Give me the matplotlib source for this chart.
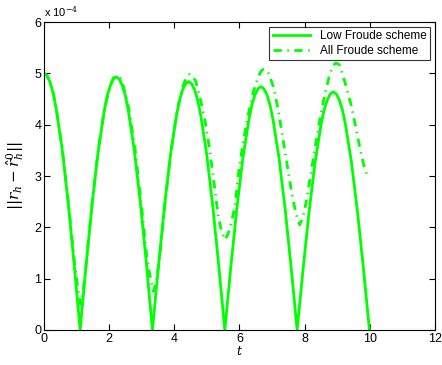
import numpy as np
import matplotlib
matplotlib.use("Agg")
from matplotlib import pyplot as plt

plt.rcParams['font.family'] = ['Liberation Sans', 'DejaVu Sans']
plt.rcParams['mathtext.fontset'] = 'dejavuserif'

# values, y in units of 1e-4
t_low = [0.0, 0.09, 0.185, 0.28, 0.37, 0.555, 0.74, 0.925, 1.11,
         1.295, 1.48, 1.665, 1.85, 1.94, 2.035, 2.13, 2.22, 2.31, 2.405, 2.50, 2.59,
         2.775, 2.96, 3.145, 3.33,
         3.515, 3.70, 3.885, 4.07, 4.16, 4.255, 4.35, 4.44, 4.53, 4.625, 4.72, 4.81,
         4.995, 5.18, 5.365, 5.55,
         5.735, 5.92, 6.105, 6.29, 6.38, 6.475, 6.57, 6.66, 6.75, 6.845, 6.94, 7.03,
         7.215, 7.40, 7.585, 7.77,
         7.955, 8.14, 8.325, 8.51, 8.60, 8.695, 8.79, 8.88, 8.97, 9.065, 9.16, 9.25,
         9.435, 9.62, 9.805, 9.99]
r_low = [5.00, 4.96, 4.83, 4.62, 4.33, 3.54, 2.50, 1.29, 0.0,
         1.28, 2.47, 3.49, 4.27, 4.56, 4.76, 4.89, 4.93, 4.89, 4.76, 4.56, 4.27,
         3.49, 2.47, 1.28, 0.0,
         1.25, 2.42, 3.42, 4.19, 4.47, 4.68, 4.80, 4.84, 4.80, 4.68, 4.47, 4.19,
         3.42, 2.42, 1.25, 0.0,
         1.23, 2.37, 3.35, 4.10, 4.38, 4.58, 4.70, 4.74, 4.70, 4.58, 4.38, 4.10,
         3.35, 2.37, 1.23, 0.0,
         1.20, 2.32, 3.28, 4.02, 4.29, 4.48, 4.60, 4.64, 4.60, 4.48, 4.29, 4.02,
         3.28, 2.32, 1.20, 0.0]

t_all = [0.0, 0.09, 0.185, 0.28, 0.37, 0.555, 0.74, 0.925, 1.04, 1.13,
         1.22, 1.30, 1.48, 1.665, 1.85, 2.035, 2.13, 2.23, 2.33,
         2.42, 2.60, 2.79, 2.97, 3.16, 3.27, 3.36,
         3.45, 3.55, 3.72, 3.90, 4.08, 4.27, 4.38, 4.47, 4.57,
         4.66, 4.80, 4.94, 5.04, 5.14, 5.25, 5.35, 5.45, 5.55,
         5.63, 5.71, 5.86, 5.98, 6.11, 6.27, 6.43, 6.59, 6.67, 6.75, 6.83,
         6.91, 7.06, 7.20, 7.34, 7.48, 7.62, 7.74, 7.85,
         7.95, 8.05, 8.18, 8.32, 8.47, 8.62, 8.78, 8.87, 8.95, 9.02,
         9.08, 9.25, 9.44, 9.57, 9.69, 9.80, 9.93]
r_all = [5.00, 4.96, 4.83, 4.62, 4.34, 3.56, 2.54, 1.38, 0.80, 0.50,
         0.85, 1.32, 2.50, 3.50, 4.28, 4.77, 4.91, 4.95, 4.91,
         4.79, 4.32, 3.56, 2.56, 1.40, 1.00, 0.75,
         0.95, 1.40, 2.50, 3.50, 4.26, 4.76, 4.93, 4.98, 4.94,
         4.84, 4.50, 4.09, 3.70, 3.25, 2.72, 2.21, 1.92, 1.76,
         1.85, 1.98, 2.40, 3.10, 3.65, 4.20, 4.65, 4.95, 5.05, 5.08, 5.06,
         4.98, 4.70, 4.25, 3.70, 3.15, 2.62, 2.25, 2.05,
         2.20, 2.50, 3.00, 3.55, 4.10, 4.60, 5.00, 5.15, 5.20, 5.19,
         5.15, 4.80, 4.35, 3.95, 3.57, 3.25, 2.98]

green = (0, 1, 0)

fig = plt.figure(figsize=(4.42, 3.65), dpi=100)
ax = fig.add_axes([0.0995, 0.0959, 0.8845, 0.8438])

ax.plot(t_low, r_low, color=green, lw=2.0, label='Low Froude scheme')
ax.plot(t_all, r_all, color=green, lw=2.0, linestyle=(0, (3, 2, 0.5, 2)),
        label='All Froude scheme')

ax.set_xlim(0, 12)
ax.set_ylim(0, 6)
ax.set_xticks(range(0, 13, 2))
ax.set_yticks(range(0, 7))
ax.tick_params(direction='in', length=4, width=0.8, labelsize=9,
               top=True, right=True, pad=2)
for s in ax.spines.values():
    s.set_linewidth(0.8)

ax.text(0.0, 1.01, r'x 10$^{-4}$', transform=ax.transAxes, fontsize=8,
        ha='left', va='bottom')
ax.set_xlabel(r'$t$', fontsize=9, labelpad=0)
ax.set_ylabel(r'$||r_h - \hat{r}_h^0||$', fontsize=11, labelpad=6)

leg = ax.legend(loc='upper right', fontsize=8.5, frameon=True, fancybox=False,
                edgecolor='black', borderpad=0.3, labelspacing=0.2,
                handlelength=3.2, borderaxespad=0.4)
leg.get_frame().set_linewidth(0.8)

fig.savefig('out.png', dpi=100)
